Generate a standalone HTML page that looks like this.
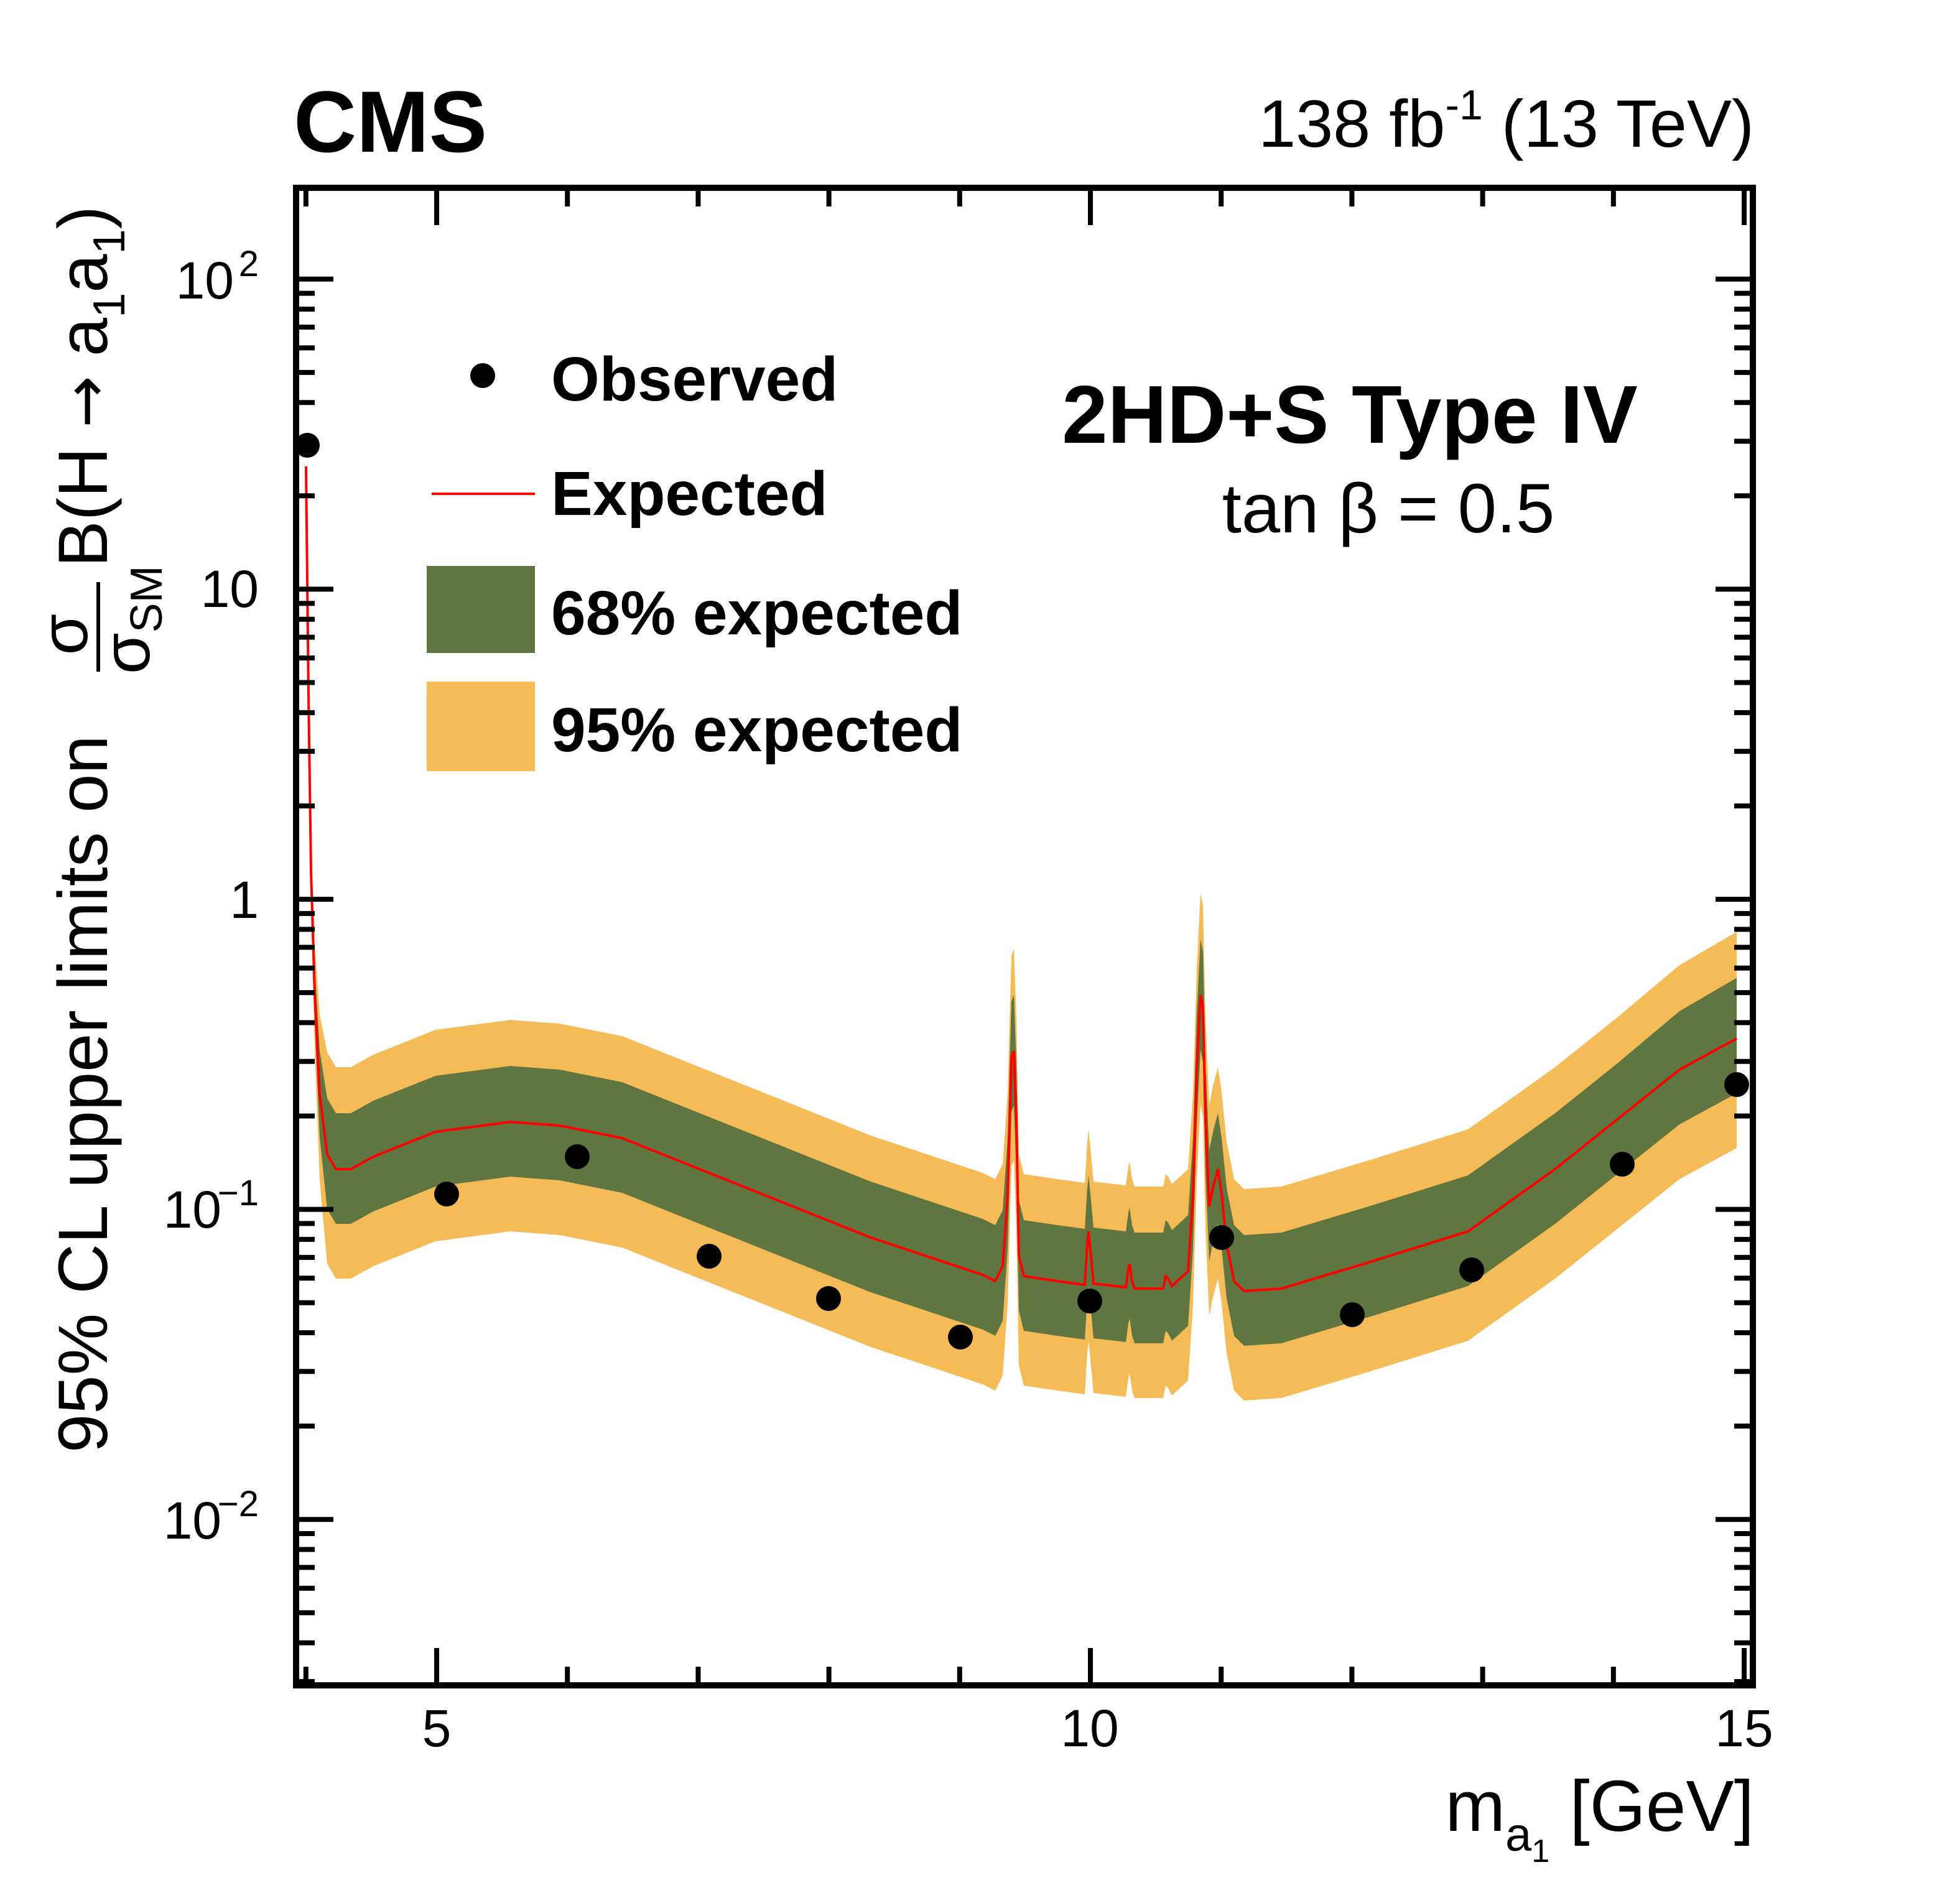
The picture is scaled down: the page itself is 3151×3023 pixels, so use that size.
<!DOCTYPE html>
<html><head><meta charset="utf-8"><style>
html,body{margin:0;padding:0;background:#fff}
svg{display:block}
text{font-family:"Liberation Sans",sans-serif}
</style></head><body>
<svg id="s" width="3151" height="3023" viewBox="0 0 1575.5 1511.5" xmlns="http://www.w3.org/2000/svg">
<rect width="1575.5" height="1511.5" fill="#fff"/>
<g id="bands"></g>
<g id="pts" fill="#000"></g>
<g id="ticks" stroke="#000" stroke-width="4" fill="none"></g>
<rect x="238" y="151" width="1171" height="1204" fill="none" stroke="#000" stroke-width="5"/>
<!-- Header -->
<text x="236" y="122" font-size="70" font-weight="bold">CMS</text>
<text x="1410" y="118" font-size="54" text-anchor="end">138 fb<tspan font-size="34" dy="-22">-1</tspan><tspan dy="22"> (13 TeV)</tspan></text>
<!-- Legend -->
<circle cx="388" cy="302" r="10" fill="#000"/>
<text x="443" y="322" font-size="50" font-weight="bold">Observed</text>
<line x1="347" y1="397" x2="430" y2="397" stroke="#f00" stroke-width="2"/>
<text x="443" y="414" font-size="50" font-weight="bold">Expected</text>
<rect x="343" y="455" width="87" height="70" fill="#607641"/>
<text x="443" y="510" font-size="50" font-weight="bold">68% expected</text>
<rect x="343" y="548" width="87" height="72" fill="#f4bb57"/>
<text x="443" y="604" font-size="50" font-weight="bold">95% expected</text>
<text x="1085" y="356" font-size="66" font-weight="bold" text-anchor="middle">2HD+S Type IV</text>
<text x="1116" y="428" font-size="56" text-anchor="middle">tan β = 0.5</text>
<!-- Tick labels -->
<g font-size="42" text-anchor="middle">
<text x="351" y="1404">5</text><text x="876" y="1404">10</text><text x="1402" y="1404">15</text>
</g>
<g font-size="42" text-anchor="end">
<text x="188" y="240">10</text><text x="208" y="222" font-size="29">2</text>
<text x="208" y="488">10</text>
<text x="208" y="738">1</text>
<text x="178" y="987">10</text><text x="208" y="969" font-size="29">−1</text>
<text x="178" y="1237">10</text><text x="208" y="1219" font-size="29">−2</text>
</g>
<text x="1410" y="1472" font-size="58" text-anchor="end">m<tspan font-size="38" dy="16">a</tspan><tspan font-size="26" dy="9">1</tspan><tspan dy="-25"> [GeV]</tspan></text>
<!-- Y title -->
<g transform="translate(86,1168) rotate(-90)" font-size="56">
<text x="0" y="0">95% CL upper limits on</text>
<text x="658" y="-16" font-size="54" text-anchor="middle">σ</text>
<line x1="628" y1="-7" x2="700" y2="-7" stroke="#000" stroke-width="3"/>
<text x="626" y="34" font-size="54">σ<tspan font-size="36" dy="10">SM</tspan></text>
<text x="712" y="0">B(H <tspan font-family="DejaVu Sans" font-size="50">→</tspan> a<tspan font-size="36" dy="14">1</tspan><tspan dy="-14">a</tspan><tspan font-size="36" dy="14">1</tspan><tspan dy="-14">)</tspan></text>
</g>
</svg>
<script>
(function(){
var NS="http://www.w3.org/2000/svg";
function el(t,a,p){var e=document.createElementNS(NS,t);for(var k in a)e.setAttribute(k,a[k]);p.appendChild(e);return e;}
var X0=238,X1=1409,Y0=151,Y1=1355;
function xp(v){return 351+(v-5)*105.1;}
function yp(v){return 723-249.3*Math.log10(v);}
var tk=document.getElementById('ticks');
var d="";
for(var g=4;g<=15;g++){var x=xp(g);var L=(g%5==0)?30:15;d+="M"+x+" "+Y1+"v-"+L+"M"+x+" "+Y0+"v"+L;}
for(var e=-3;e<=2;e++){for(var m=1;m<10;m++){var v=m*Math.pow(10,e);var y=yp(v);if(y<Y0+2||y>Y1-2)continue;var L=(m==1)?30:15;d+="M"+X0+" "+y+"h"+L+"M"+X1+" "+y+"h-"+L;}}
el('path',{d:d},tk);
var line=[[246,375],[248,560],[250,700],[253,800],[257,880],[263,928],[270,940],[282,940],[300,930],[350,910],[410,902],[450,905],[500,915],[600,955],[700,995],[790,1025],[800,1030],[806,1018],[810,960],[813,850],[815,845],[817,900],[819,1010],[823,1026],[850,1030],[872,1033],[874,1000],[875,990],[877,1010],[879,1032],[905,1035],[907,1020],[908,1016],[910,1030],[912,1036],[935,1036],[937,1026],[939,1028],[942,1034],[955,1022],[959,960],[962,860],[965,800],[967,810],[969,900],[972,970],[975,955],[979,940],[982,960],[986,1000],[992,1030],[1000,1038],[1030,1036],[1100,1015],[1180,990],[1250,940],[1300,900],[1350,860],[1396,835]];
function scale(x){return x<246?0:Math.min(1,(x-246)/14);}
function band(up,dn,col){var top=[],bot=[];for(var i=0;i<line.length;i++){var p=line[i];var s=scale(p[0]);var u=up,dd=dn;if(p[0]>1300){u+=(p[0]-1300)*0.04;}
top.push(p[0]+","+(p[1]-u*s));bot.unshift(p[0]+","+(p[1]+dd*s));}
el('polygon',{points:top.concat(bot).join(" "),fill:col},document.getElementById('bands'));}
band(82,88,"#f4bb57");
band(45,44,"#607641");
var pl=line.map(function(p){return p[0]+","+p[1];}).join(" ");
el('polyline',{points:pl,fill:"none",stroke:"#f00","stroke-width":2},document.getElementById('bands'));
var dots=[[247,358],[359,960],[464,930],[570,1010],[666,1044],[772,1075],[876,1046],[982,995],[1087,1057],[1183,1021],[1304,936],[1396,872]];
var pg=document.getElementById('pts');
dots.forEach(function(p){el('circle',{cx:p[0],cy:p[1],r:10},pg);});
})();
</script>
</body></html>
